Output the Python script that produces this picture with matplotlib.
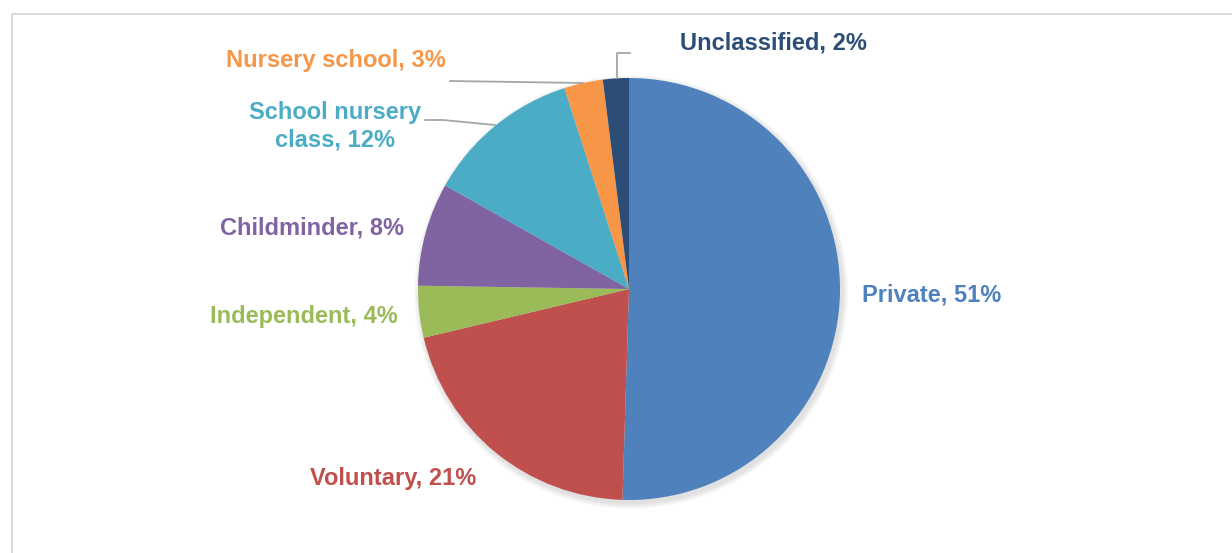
import numpy as np
import matplotlib.pyplot as plt
from matplotlib.patches import Rectangle, Circle

labels = ['Private', 'Voluntary', 'Independent', 'Childminder',
          'School nursery\nclass', 'Nursery school', 'Unclassified']
values = [51, 21, 4, 8, 12, 3, 2]
colors = ['#4F81BD', '#C0504D', '#9BBB59', '#8064A2', '#4BACC6', '#F79646', '#2C4D75']

W, H = 1232, 553
fig = plt.figure(figsize=(W / 100, H / 100), dpi=100)
ax = fig.add_axes([0, 0, 1, 1])
ax.set_xlim(0, W)
ax.set_ylim(H, 0)
ax.set_aspect('equal')
ax.axis('off')

cx, cy, r = 629, 289, 211

# soft shadow behind the pie
for k in range(6):
    ax.add_patch(Circle((cx + 2, cy + 3), r + 1 + k, color='k', alpha=0.018, zorder=0, lw=0))

# y axis is inverted, so counterclock=True runs clockwise on screen
ax.pie(values, colors=colors, startangle=-90, counterclock=True,
       center=(cx, cy), radius=r, frame=True,
       wedgeprops=dict(linewidth=0))
ax.set_xlim(0, W)
ax.set_ylim(H, 0)
ax.axis('off')

font = dict(family='Liberation Sans', weight='bold', fontsize=17)
pos = [(862, 295, 'left'), (393, 478, 'center'), (398, 317, 'right'),
       (404, 228, 'right'), (335, 126, 'center'), (446, 60, 'right'),
       (680, 43, 'left')]
for lab, v, c, (x, y, ha) in zip(labels, values, colors, pos):
    ax.text(x, y, f'{lab}, {v}%', color=c, ha=ha, va='center',
            multialignment='center', linespacing=1.25, **font)

lc = '#A6A6A6'
ax.plot([450, 583], [81, 83], color=lc, lw=1.3)
ax.plot([617, 617, 630], [78, 53, 53], color=lc, lw=1.3)
ax.plot([425, 443, 495], [120, 120, 125], color=lc, lw=1.3)

# chart frame
ax.add_patch(Rectangle((12, 14), W, H, fill=False, ec='#D9D9D9', lw=1.5, zorder=-1))

fig.savefig('out.png', dpi=100)
